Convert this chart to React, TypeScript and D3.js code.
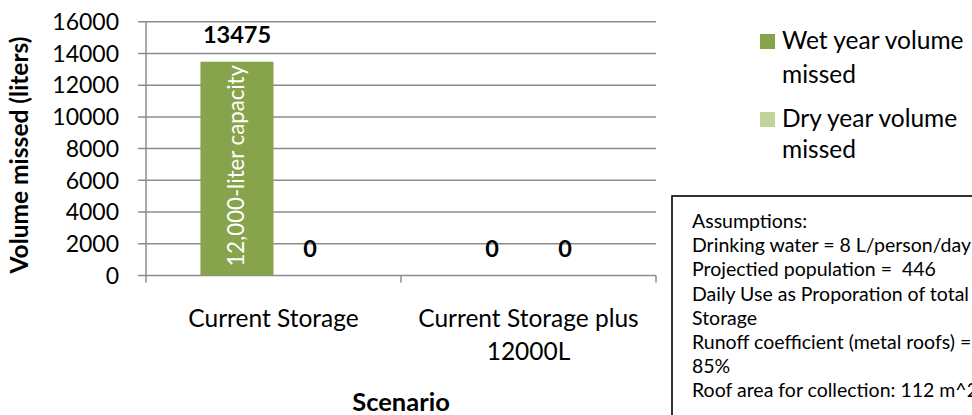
import React from "react";
import * as d3 from "d3";

const categories = ["Current Storage", "Current Storage plus 12000L"];
const categoryLines = [["Current Storage"], ["Current Storage plus", "12000L"]];
const seriesNames = ["Wet year volume missed", "Dry year volume missed"];
const legendLines = [["Wet year volume", "missed"], ["Dry year volume", "missed"]];
const wetValues = [13475, 0];
const dryValues = [0, 0];
const yTicks = [0, 2000, 4000, 6000, 8000, 10000, 12000, 14000, 16000];
const barNote = "12,000-liter capacity";
const yTitle = "Volume missed (liters)";
const xTitle = "Scenario";
const assumptions = [
  "Assumptions:",
  "Drinking water = 8 L/person/day",
  "Projectied population =  446",
  "Daily Use as Proporation of total",
  "Storage",
  "Runoff coefficient (metal roofs) =",
  "85%",
  "Roof area for collection: 112 m^2",
];

const colors = ["#87A44C", "#C0D49A"];
const FONT = "Lato, 'Open Sans', sans-serif";

export default function App() {
  const W = 972, H = 415;
  const left = 146, right = 656, top = 21.7, bottom = 275.5;
  const x = d3.scaleBand<string>().domain(categories).range([left, right]).paddingInner(0).paddingOuter(0);
  const inner = d3.scaleBand<string>().domain(seriesNames).range([0, x.bandwidth()]).paddingInner(0).paddingOuter(0.745);
  const y = d3.scaleLinear().domain([0, 16000]).range([bottom, top]);
  const series = [wetValues, dryValues];
  const gridColor = "#8c8c8c";

  return (
    <svg width={W} height={H} style={{ position: "absolute", left: 0, top: 0, background: "#fff" }} fontFamily={FONT}>
      {/* gridlines + y ticks */}
      {yTicks.map((t) => (
        <g key={t}>
          <line x1={left - 8} x2={right} y1={y(t)} y2={y(t)} stroke={gridColor} strokeWidth={1.5} />
          <text x={119} y={y(t)} dy="0.36em" textAnchor="end" fontSize={23} fill="#000">{t}</text>
        </g>
      ))}
      {/* y axis line */}
      <line x1={left} x2={left} y1={top} y2={bottom} stroke={gridColor} strokeWidth={1.5} />
      {/* x axis ticks */}
      {[left, ...categories.map((c) => (x(c) as number) + x.bandwidth())].map((tx, i) => (
        <line key={i} x1={tx} x2={tx} y1={bottom} y2={bottom + 7} stroke={gridColor} strokeWidth={1.5} />
      ))}
      {/* bars */}
      {series.map((vals, si) =>
        categories.map((c, ci) => {
          const bx = (x(c) as number) + (inner(seriesNames[si]) as number);
          const v = vals[ci];
          return (
            <g key={`${si}-${ci}`}>
              <rect x={bx} y={y(v)} width={inner.bandwidth()} height={bottom - y(v)} fill={colors[si]} />
              <text x={bx + inner.bandwidth() / 2} y={y(v) - 19} textAnchor="middle" fontSize={23.5} fontWeight="bold" fill="#000">{v}</text>
            </g>
          );
        })
      )}
      {/* rotated note in bar */}
      <text
        transform={`translate(${(x(categories[0]) as number) + (inner(seriesNames[0]) as number) + inner.bandwidth() / 2 + 7},${bottom - 9}) rotate(-90)`}
        fontSize={22.2}
        fill="#fff"
      >{barNote}</text>
      {/* category labels */}
      {categories.map((c, ci) =>
        categoryLines[ci].map((ln, li) => (
          <text key={`${ci}-${li}`} x={(x(c) as number) + x.bandwidth() / 2} y={327 + li * 32.5} textAnchor="middle" fontSize={24.5} fill="#000">{ln}</text>
        ))
      )}
      {/* axis titles */}
      <text x={(left + right) / 2} y={411} textAnchor="middle" fontSize={25.5} fontWeight="bold" fill="#000">{xTitle}</text>
      <text transform={`translate(28,${155}) rotate(-90)`} textAnchor="middle" fontSize={24.5} fontWeight="bold" fill="#000">{yTitle}</text>
      {/* legend */}
      {legendLines.map((lines, i) => {
        const base = [49, 127][i];
        return (
          <g key={i}>
            <rect x={760} y={base - 15} width={15} height={15} fill={colors[i]} />
            {lines.map((ln, li) => (
              <text key={li} x={782} y={base + li * [34, 31][i]} fontSize={24.5} fill="#000">{ln}</text>
            ))}
          </g>
        );
      })}
      {/* assumptions box */}
      <rect x={672} y={196} width={400} height={300} fill="#fff" stroke="#000" strokeWidth={1.6} />
      {assumptions.map((ln, i) => (
        <text key={i} x={692} y={228 + i * 24.2} fontSize={19.5} fill="#000" style={{ whiteSpace: "pre" }}>{ln}</text>
      ))}
    </svg>
  );
}
